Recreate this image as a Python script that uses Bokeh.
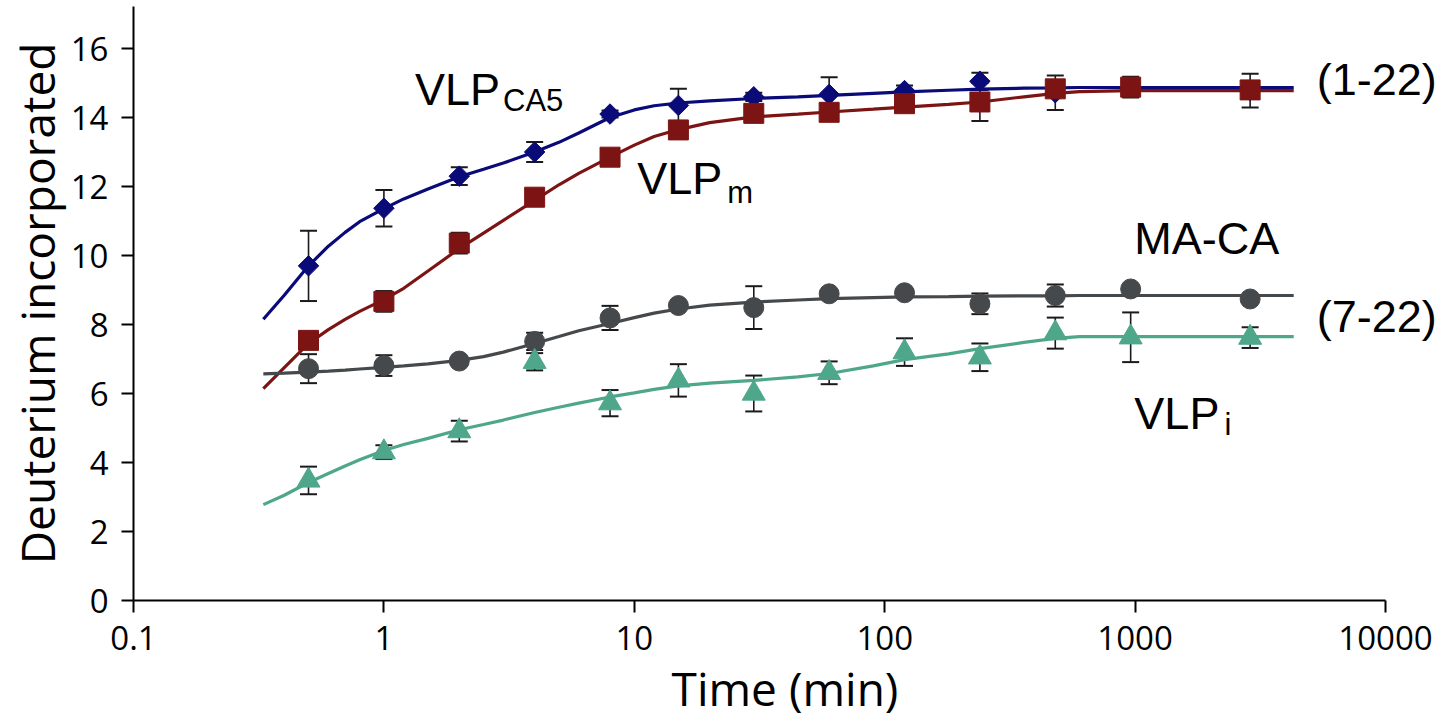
import numpy as np
from bokeh.plotting import figure
from bokeh.models import (Range1d, FixedTicker, CustomJSTickFormatter, ColumnDataSource,
                          Whisker, TeeHead, Label)
from bokeh.embed import file_html
from bokeh.resources import INLINE

# ---- data ----
times = [0.5, 1, 2, 4, 8, 15, 30, 60, 120, 240, 480, 960, 2880]

vlp_ca5 = [9.7, 11.37, 12.3, 13.0, 14.1, 14.35, 14.6, 14.67, 14.78, 15.05, 14.72, 14.88, 14.78]
vlp_ca5_err = [1.02, 0.53, 0.26, 0.29, 0.1, 0.48, 0.12, 0.5, 0.15, 0.25, 0.5, 0.3, 0.49]

vlp_m = [7.54, 8.67, 10.36, 11.69, 12.85, 13.64, 14.12, 14.15, 14.4, 14.45, 14.83, 14.88, 14.8]
vlp_m_err = [0.25, 0.3, 0.3, 0.15, 0.15, 0.15, 0.2, 0.2, 0.2, 0.55, 0.1, 0.1, 0.1]

ma_ca = [6.72, 6.81, 6.94, 7.51, 8.19, 8.55, 8.49, 8.89, 8.92, 8.6, 8.84, 9.03, 8.74]
ma_ca_err = [0.42, 0.3, 0.1, 0.25, 0.35, 0.1, 0.62, 0.1, 0.1, 0.3, 0.32, 0.1, 0.1]

vlp_i = [3.48, 4.3, 4.91, 6.92, 5.72, 6.38, 6.0, 6.6, 7.2, 7.05, 7.75, 7.63, 7.62]
vlp_i_err = [0.4, 0.2, 0.3, 0.25, 0.38, 0.47, 0.52, 0.33, 0.4, 0.4, 0.45, 0.72, 0.3]

# fitted curves
fit_t = [0.33, 0.4, 0.5, 0.6, 0.7, 0.8, 1, 1.2, 1.5, 2, 2.5, 3, 4, 5, 6, 8, 10, 12, 15, 20,
         30, 45, 60, 90, 120, 180, 240, 360, 480, 600, 960, 2880, 4300]
fit_ca5 = [8.15, 8.85, 9.7, 10.27, 10.67, 10.98, 11.36, 11.64, 11.93, 12.28, 12.5, 12.68, 13.0,
           13.28, 13.55, 14.0, 14.22, 14.34, 14.42, 14.48, 14.55, 14.6, 14.64, 14.7, 14.74,
           14.79, 14.82, 14.85, 14.86, 14.87, 14.87, 14.87, 14.87]
fit_m = [6.14, 6.75, 7.45, 7.85, 8.15, 8.38, 8.72, 9.05, 9.55, 10.2, 10.65, 11.02, 11.6,
         12.05, 12.38, 12.85, 13.2, 13.45, 13.65, 13.85, 14.02, 14.1, 14.16, 14.24, 14.3,
         14.38, 14.45, 14.6, 14.7, 14.75, 14.78, 14.78, 14.78]
fit_maca = [6.57, 6.59, 6.62, 6.65, 6.68, 6.71, 6.76, 6.8, 6.86, 6.96, 7.07, 7.2, 7.45,
            7.65, 7.82, 8.03, 8.2, 8.33, 8.45, 8.56, 8.65, 8.71, 8.75, 8.78, 8.8,
            8.81, 8.82, 8.83, 8.83, 8.84, 8.84, 8.84, 8.84]
fit_i = [2.78, 3.05, 3.42, 3.68, 3.9, 4.08, 4.35, 4.52, 4.7, 4.95, 5.1, 5.23, 5.45,
         5.6, 5.72, 5.9, 6.02, 6.12, 6.22, 6.3, 6.38, 6.48, 6.58, 6.8, 6.98,
         7.15, 7.3, 7.48, 7.6, 7.65, 7.65, 7.65, 7.65]

x_ticks = [0.1, 1, 10, 100, 1000, 10000]
y_ticks = [0, 2, 4, 6, 8, 10, 12, 14, 16]

BLUE = "#0a0a78"
RED = "#7d1414"
GRAY = "#46494c"
GREEN = "#4ea68b"
ERR = "#1a1a1a"

W, H = 1436, 722
LEFT, RIGHT_AXIS_END, TOP, BOTTOM_BORDER = 133, 1385, 6, 122
decade_px = (RIGHT_AXIS_END - LEFT) / 5.0
x_end = 10 ** (4 + (W - RIGHT_AXIS_END) / decade_px)
frame_h = H - TOP - BOTTOM_BORDER
y_end = frame_h / 34.5

p = figure(width=W, height=H, x_axis_type="log",
           x_range=Range1d(0.1, x_end), y_range=Range1d(0, y_end),
           output_backend="svg", toolbar_location=None,
           min_border_left=LEFT, min_border_right=0, min_border_top=TOP,
           min_border_bottom=BOTTOM_BORDER)
p.outline_line_color = None
p.grid.visible = False
p.background_fill_color = "white"
p.border_fill_color = "white"

p.xaxis.ticker = FixedTicker(ticks=x_ticks)
p.xaxis.bounds = (0.1, 10000)
p.xaxis.formatter = CustomJSTickFormatter(code="return tick >= 1 ? tick.toFixed(0) : tick.toFixed(1);")
p.yaxis.ticker = FixedTicker(ticks=y_ticks)
p.xaxis.axis_label = "Time (min)"
p.yaxis.axis_label = "Deuterium incorporated"

for ax in (p.xaxis[0], p.yaxis[0]):
    ax.axis_line_width = 2
    ax.axis_line_color = "black"
    ax.major_tick_line_width = 2
    ax.major_tick_line_color = "black"
    ax.major_tick_out = 12
    ax.major_tick_in = 0
    ax.minor_tick_line_color = None
    ax.major_label_text_font = "Open Sans"
    ax.major_label_text_font_size = "33px"
    ax.major_label_text_color = "black"
    ax.axis_label_text_font = "Open Sans"
    ax.axis_label_text_font_size = "46px"
    ax.axis_label_text_font_style = "normal"
    ax.axis_label_text_color = "black"
p.xaxis.major_label_standoff = 13
p.xaxis.axis_label_standoff = 4
p.yaxis.major_label_standoff = 13
p.yaxis.axis_label_standoff = 0


def add_errors(vals, errs):
    src = ColumnDataSource(dict(t=times,
                                lo=[v - e for v, e in zip(vals, errs)],
                                hi=[v + e for v, e in zip(vals, errs)]))
    p.add_layout(Whisker(source=src, base="t", lower="lo", upper="hi",
                         line_color=ERR, line_width=1.6,
                         lower_head=TeeHead(size=17, line_color=ERR, line_width=2),
                         upper_head=TeeHead(size=17, line_color=ERR, line_width=2)))


for vals, errs in ((vlp_ca5, vlp_ca5_err), (vlp_m, vlp_m_err), (ma_ca, ma_ca_err), (vlp_i, vlp_i_err)):
    add_errors(vals, errs)

p.line(fit_t, fit_ca5, line_color=BLUE, line_width=3.2)
p.scatter(times, vlp_ca5, marker="square", angle=np.pi / 4, size=14.5, color=BLUE)
p.line(fit_t, fit_m, line_color=RED, line_width=3.2)
p.scatter(times, vlp_m, marker="square", size=20, color=RED)
p.line(fit_t, fit_maca, line_color=GRAY, line_width=3.2)
p.scatter(times, ma_ca, marker="circle", size=20, color=GRAY)
p.line(fit_t, fit_i, line_color=GREEN, line_width=3.2)
p.scatter(times, vlp_i, marker="triangle", size=23, color=GREEN)

LF = "Liberation Sans"


def lab(x, y, text, size):
    p.add_layout(Label(x=x, y=y, text=text, text_font=LF, text_font_size=size,
                       text_color="black", text_align="left", text_baseline="alphabetic"))


lab(1.33, 14.8, "VLP", "45px")
lab(2.99, 14.5, "CA5", "31px")
lab(10.27, 12.23, "VLP", "45px")
lab(23.5, 11.84, "m", "31px")
lab(993, 10.49, "MA-CA", "45px")
lab(993, 5.42, "VLP", "45px")
lab(2277, 5.1, "i", "31px")
lab(5316, 15.1, "(1-22)", "45px")
lab(5316, 8.22, "(7-22)", "45px")

open("out.html", "w").write(file_html(p, INLINE))
